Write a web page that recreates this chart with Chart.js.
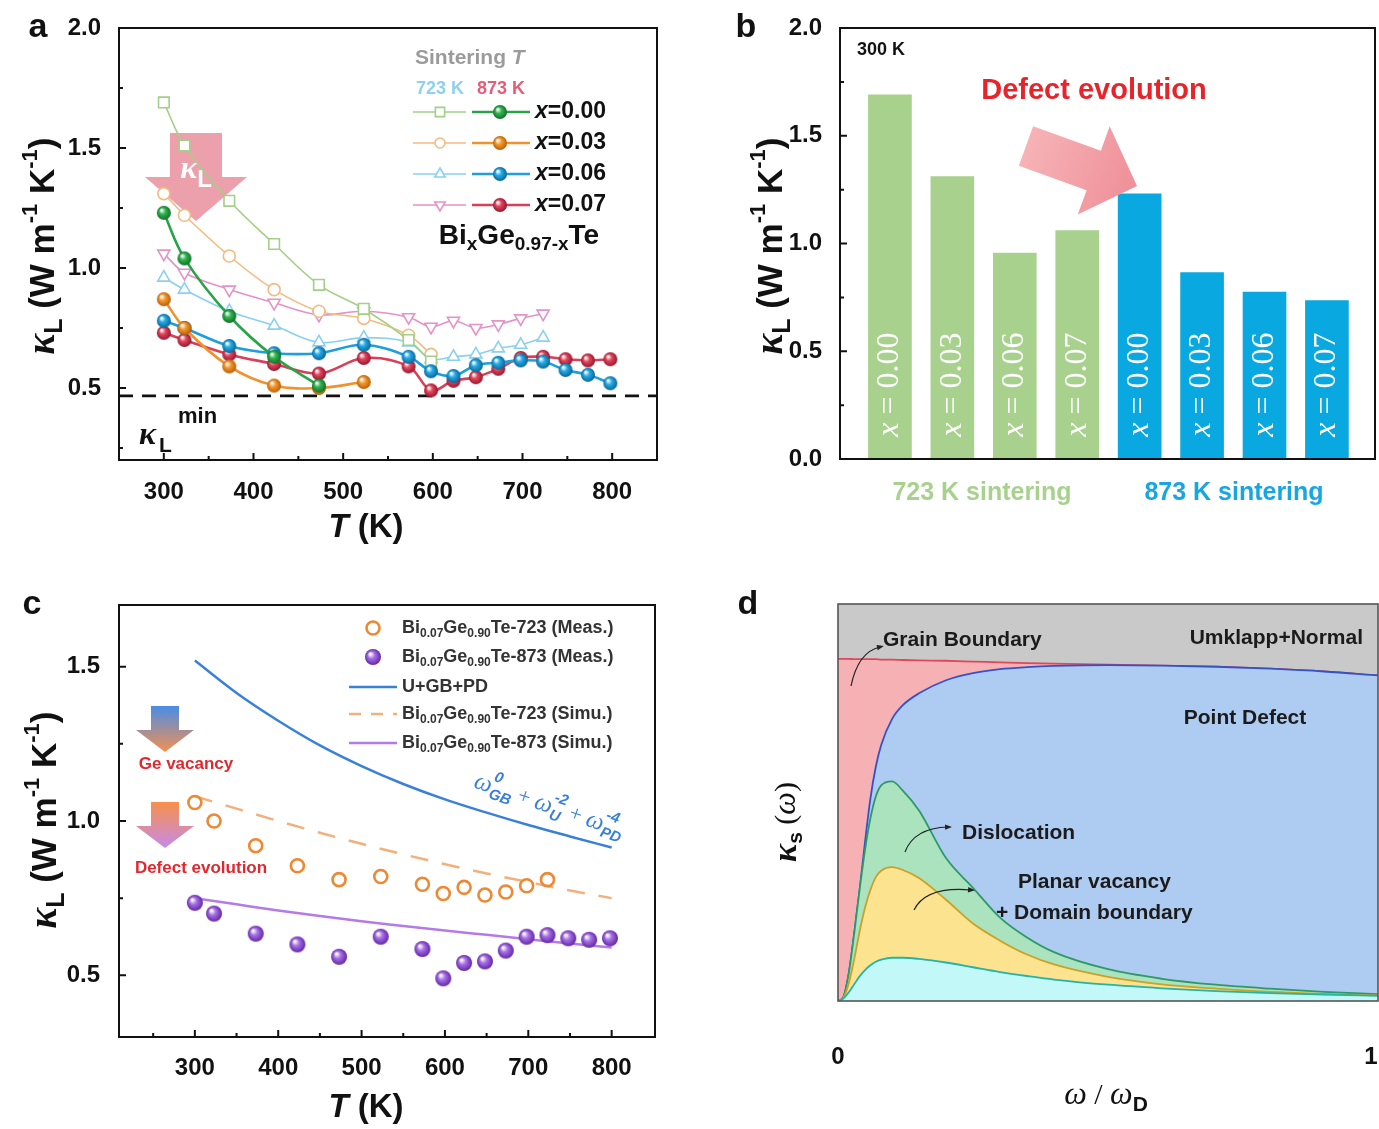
<!DOCTYPE html>
<html>
<head>
<meta charset="utf-8">
<script src="https://cdn.jsdelivr.net/npm/chart.js@4.4.1/dist/chart.umd.min.js"></script>
<style>
html, body { margin: 0; padding: 0; background: #fff; }
#wrap { position: relative; width: 1379px; height: 1129px; }
#wrap canvas { position: absolute; left: 0; top: 0; }
</style>
</head>
<body>
<div id="wrap">
  <canvas id="ca" width="1379" height="1129"></canvas>
  <canvas id="cb" width="1379" height="1129"></canvas>
  <canvas id="cc" width="1379" height="1129"></canvas>
  <canvas id="cd" width="1379" height="1129"></canvas>
</div>
<script>
// ---- panel a: kappa_L vs T, two sintering temperatures ----
const tempsA = [300, 323, 373, 423, 473, 523, 573, 598, 623, 648, 673, 698, 723, 748, 773, 798];
const k723x000 = [1.69, 1.51, 1.28, 1.10, 0.93, 0.83, 0.70, 0.61];
const k723x003 = [1.31, 1.22, 1.05, 0.91, 0.82, 0.79, 0.72, 0.64];
const k723x006 = [0.96, 0.91, 0.82, 0.76, 0.69, 0.71, 0.69, 0.62, 0.63, 0.64, 0.665, 0.68, 0.71];
const k723x007 = [1.06, 0.98, 0.91, 0.855, 0.805, 0.82, 0.795, 0.755, 0.78, 0.75, 0.765, 0.79, 0.81];
const k873x000 = [1.23, 1.04, 0.80, 0.63, 0.51];
const k873x003 = [0.87, 0.75, 0.59, 0.51, 0.50, 0.525];
const k873x006 = [0.78, 0.75, 0.675, 0.645, 0.645, 0.68, 0.63, 0.57, 0.55, 0.595, 0.605, 0.615, 0.61, 0.575, 0.555, 0.52];
const k873x007 = [0.73, 0.70, 0.64, 0.60, 0.56, 0.625, 0.59, 0.49, 0.53, 0.545, 0.58, 0.625, 0.63, 0.62, 0.615, 0.62];
const kMin = 0.467;
const xNames = ['0.00', '0.03', '0.06', '0.07'];
const ticksTA = [300, 400, 500, 600, 700, 800];
const ticksKA = [0.5, 1.0, 1.5, 2.0];

// ---- panel b: 300 K bars ----
const barNames = ['0.00', '0.03', '0.06', '0.07', '0.00', '0.03', '0.06', '0.07'];
const bars723 = [1.69, 1.31, 0.955, 1.06];
const bars873 = [1.23, 0.865, 0.775, 0.735];
const ticksKB = [0.0, 0.5, 1.0, 1.5, 2.0];

// ---- panel c: measured vs simulated ----
const tempsC = [300, 323, 373, 423, 473, 523, 573, 598, 623, 648, 673, 698, 723, 748, 773, 798];
const meas723 = [1.06, 1.00, 0.92, 0.855, 0.81, 0.82, 0.795, 0.765, 0.785, 0.76, 0.77, 0.79, 0.81];
const meas873 = [0.735, 0.70, 0.635, 0.60, 0.56, 0.625, 0.585, 0.49, 0.54, 0.545, 0.58, 0.625, 0.63, 0.62, 0.615, 0.62];
const simT = [300, 350, 400, 450, 500, 550, 600, 650, 700, 750, 800];
const simUGBPD = [1.52, 1.415, 1.325, 1.245, 1.178, 1.12, 1.07, 1.027, 0.987, 0.95, 0.914];
const sim723 = [1.08, 1.04, 1.00, 0.962, 0.926, 0.892, 0.86, 0.83, 0.802, 0.775, 0.75];
const sim873 = [0.75, 0.73, 0.71, 0.692, 0.675, 0.66, 0.645, 0.631, 0.617, 0.603, 0.59];
const ticksTC = [300, 400, 500, 600, 700, 800];
const ticksKC = [0.5, 1.0, 1.5];

// ---- panel d: spectral kappa (stacked scattering contributions) ----
const wRel = [0, 0.01, 0.02, 0.03, 0.04, 0.05, 0.06, 0.07, 0.08, 0.1, 0.12, 0.15, 0.2, 0.25, 0.3, 0.35, 0.4, 0.5, 0.6, 0.7, 0.8, 0.9, 1.0];
const kUN   = [0.862, 0.862, 0.862, 0.861, 0.861, 0.861, 0.861, 0.861, 0.860, 0.860, 0.859, 0.858, 0.857, 0.855, 0.853, 0.851, 0.85, 0.847, 0.845, 0.842, 0.837, 0.83, 0.82];
const kPD   = [0, 0.01, 0.07, 0.17, 0.28, 0.40, 0.51, 0.59, 0.645, 0.71, 0.745, 0.775, 0.808, 0.826, 0.836, 0.841, 0.844, 0.846, 0.845, 0.842, 0.837, 0.83, 0.82];
const kDis  = [0, 0.01, 0.07, 0.17, 0.28, 0.38, 0.46, 0.515, 0.543, 0.553, 0.53, 0.48, 0.36, 0.285, 0.21, 0.16, 0.123, 0.08, 0.056, 0.041, 0.031, 0.023, 0.017];
const kPlan = [0, 0.008, 0.045, 0.105, 0.175, 0.235, 0.28, 0.312, 0.328, 0.337, 0.33, 0.31, 0.255, 0.195, 0.152, 0.117, 0.092, 0.061, 0.042, 0.031, 0.023, 0.018, 0.014];
const kRest = [0, 0.006, 0.022, 0.042, 0.062, 0.078, 0.09, 0.099, 0.104, 0.109, 0.109, 0.106, 0.097, 0.085, 0.073, 0.063, 0.054, 0.041, 0.032, 0.025, 0.02, 0.016, 0.013];
const ticksWD = [0, 1];

const W = 1379, H = 1129;
const SANS = '"Liberation Sans", Arial, Helvetica, sans-serif';
const SERIF = '"Liberation Serif", "Times New Roman", serif';

const pts = (xs, ys) => ys.map((y, i) => ({ x: xs[i], y }));
const pad = (l, t, r, b, yw, xh) => ({ left: l - yw, top: t, right: W - r, bottom: H - b - xh });
const F = (size, o = {}) => `${o.it ? 'italic ' : ''}${o.normal ? '' : 'bold '}${size}px ${o.serif ? SERIF : SANS}`;

function axis(min, max, vals, fmt, padding, fit, show = true) {
  return {
    type: 'linear', min, max,
    grid: { display: false }, border: { display: false },
    afterBuildTicks: s => { s.ticks = vals.map(v => ({ value: v })); },
    afterFit: fit,
    ticks: { display: show, callback: fmt, padding, color: '#111', autoSkip: false, maxRotation: 0,
             font: { family: SANS, size: 24, weight: 'bold' } }
  };
}

function baseOpts(padding, scales) {
  return {
    responsive: false, animation: false, events: [],
    layout: { padding },
    plugins: { legend: { display: false }, tooltip: { enabled: false } },
    scales
  };
}

// shaded sphere marker
function ball(color, dark, r) {
  const c = document.createElement('canvas');
  const s = Math.ceil(r * 2 + 2);
  c.width = c.height = s;
  const g = c.getContext('2d');
  const m = s / 2;
  const gr = g.createRadialGradient(m - r * 0.35, m - r * 0.4, r * 0.08, m, m, r);
  gr.addColorStop(0, '#ffffff');
  gr.addColorStop(0.4, color);
  gr.addColorStop(1, dark);
  g.fillStyle = gr;
  g.beginPath(); g.arc(m, m, r, 0, Math.PI * 2); g.fill();
  return c;
}

// mixed-font text, parts laid out left to right
function rich(ctx, parts, x, y, align = 'left', rot = 0, color = '#111') {
  ctx.save();
  ctx.translate(x, y);
  if (rot) ctx.rotate(rot);
  ctx.textBaseline = 'middle';
  ctx.textAlign = 'left';
  let total = 0;
  parts.forEach(p => {
    ctx.font = p.f;
    p.w = p.stack ? Math.max(ctx.measureText(p.sup).width, ctx.measureText(p.sub).width)
                  : ctx.measureText(p.t).width;
    total += p.w;
  });
  let cx = align === 'center' ? -total / 2 : align === 'right' ? -total : 0;
  parts.forEach(p => {
    ctx.fillStyle = p.c || color;
    ctx.font = p.f;
    if (p.stack) {
      ctx.fillText(p.sup, cx, p.supDy);
      ctx.fillText(p.sub, cx, p.subDy);
    } else {
      ctx.fillText(p.t, cx, p.dy || 0);
    }
    cx += p.w;
  });
  ctx.restore();
}

function kTitle(S) {
  return [
    { t: 'κ', f: F(S + 4, { it: 1, serif: 1 }) },
    { t: 'L', f: F(Math.round(S * 0.7)), dy: S * 0.32 },
    { t: ' (W m', f: F(S) },
    { t: '-1', f: F(Math.round(S * 0.64)), dy: -S * 0.36 },
    { t: ' K', f: F(S) },
    { t: '-1', f: F(Math.round(S * 0.64)), dy: -S * 0.36 },
    { t: ')', f: F(S) }
  ];
}
const tTitle = [{ t: 'T', f: F(33, { it: 1 }) }, { t: ' (K)', f: F(33) }];

function frame(chart, o) {
  const { ctx, chartArea: a } = chart;
  const xs = chart.scales.x, ys = chart.scales.y;
  ctx.save();
  ctx.strokeStyle = o.color || '#111';
  ctx.lineWidth = o.lw || 2;
  ctx.strokeRect(a.left, a.top, a.right - a.left, a.bottom - a.top);
  ctx.beginPath();
  (o.xMaj || []).forEach(v => { const p = xs.getPixelForValue(v); ctx.moveTo(p, a.bottom); ctx.lineTo(p, a.bottom - 7); });
  (o.xMin || []).forEach(v => { const p = xs.getPixelForValue(v); ctx.moveTo(p, a.bottom); ctx.lineTo(p, a.bottom - 4); });
  (o.yMaj || []).forEach(v => { const p = ys.getPixelForValue(v); ctx.moveTo(a.left, p); ctx.lineTo(a.left + 7, p); });
  (o.yMin || []).forEach(v => { const p = ys.getPixelForValue(v); ctx.moveTo(a.left, p); ctx.lineTo(a.left + 4, p); });
  ctx.stroke();
  ctx.restore();
}

function arrow(ctx, x0, y0, x1, y1, bw, hw, hl, fill) {
  const ang = Math.atan2(y1 - y0, x1 - x0);
  const len = Math.hypot(x1 - x0, y1 - y0);
  ctx.save();
  ctx.translate(x0, y0);
  ctx.rotate(ang);
  ctx.beginPath();
  ctx.moveTo(0, -bw / 2);
  ctx.lineTo(len - hl, -bw / 2);
  ctx.lineTo(len - hl, -hw / 2);
  ctx.lineTo(len, 0);
  ctx.lineTo(len - hl, hw / 2);
  ctx.lineTo(len - hl, bw / 2);
  ctx.lineTo(0, bw / 2);
  ctx.closePath();
  ctx.fillStyle = typeof fill === 'function' ? fill(ctx, len) : fill;
  ctx.fill();
  ctx.restore();
}

function marker(ctx, style, x, y, r, stroke, lw, rot) {
  ctx.save();
  ctx.translate(x, y);
  if (rot) ctx.rotate(rot);
  ctx.beginPath();
  if (style === 'rect') {
    const s = r * Math.SQRT1_2;
    ctx.rect(-s, -s, 2 * s, 2 * s);
  } else if (style === 'triangle') {
    ctx.moveTo(0, -r);
    ctx.lineTo(r * 0.866, r * 0.5);
    ctx.lineTo(-r * 0.866, r * 0.5);
    ctx.closePath();
  } else {
    ctx.arc(0, 0, r, 0, Math.PI * 2);
  }
  ctx.fillStyle = '#fff';
  ctx.fill();
  ctx.strokeStyle = stroke;
  ctx.lineWidth = lw;
  ctx.stroke();
  ctx.restore();
}

function panelLabel(ctx, t, x, y) {
  ctx.save();
  ctx.font = F(34);
  ctx.fillStyle = '#111';
  ctx.textAlign = 'center';
  ctx.textBaseline = 'middle';
  ctx.fillText(t, x, y);
  ctx.restore();
}

// ================= panel a =================
const light = [
  { c: '#a3cf86', style: 'rect', r: 7.5, rot: 0 },
  { c: '#f2bb82', style: 'circle', r: 6, rot: 0 },
  { c: '#8ad0f0', style: 'triangle', r: 7, rot: 0 },
  { c: '#e492c8', style: 'triangle', r: 7, rot: 180 }
];
const dark = [
  { c: '#29a347', img: ball('#33b650', '#10702a', 7) },
  { c: '#f0922c', img: ball('#f49a30', '#b95f05', 7) },
  { c: '#1c9fdb', img: ball('#26aae5', '#0a6699', 7) },
  { c: '#d83f58', img: ball('#e2465f', '#96172c', 7) }
];
const seriesA723 = [k723x000, k723x003, k723x006, k723x007];
const seriesA873 = [k873x000, k873x003, k873x006, k873x007];

const dsA = [];
seriesA873.forEach((ys, i) => dsA.push({
  data: pts(tempsA, ys), borderColor: dark[i].c, borderWidth: 2.6, tension: 0.35,
  pointStyle: dark[i].img, pointRadius: 7
}));
seriesA723.forEach((ys, i) => dsA.push({
  data: pts(tempsA, ys), borderColor: light[i].c, borderWidth: 1.6, tension: 0.35,
  pointStyle: light[i].style, pointRotation: light[i].rot, pointRadius: light[i].r,
  pointBackgroundColor: '#fff', pointBorderColor: light[i].c, pointBorderWidth: 1.6
}));
dsA.push({
  data: [{ x: 250, y: kMin }, { x: 850, y: kMin }], borderColor: '#111', borderWidth: 2.6,
  borderDash: [14, 9], pointRadius: 0
});

new Chart(document.getElementById('ca'), {
  type: 'line',
  data: { datasets: dsA },
  options: baseOpts(pad(119, 28, 657, 460, 100, 60), {
    x: axis(250, 850, ticksTA, v => v, 10, s => { s.height = 60; }),
    y: axis(0.2, 2.0, ticksKA, v => v.toFixed(1), 10, s => { s.width = 100; })
  }),
  plugins: [{
    id: 'decoA',
    beforeDatasetsDraw(chart) {
      const ctx = chart.ctx;
      arrow(ctx, 196, 133, 196, 221, 52, 102, 44, 'rgba(229,123,138,0.72)');
      rich(ctx, [{ t: 'κ', f: F(32, { it: 1, serif: 1 }) }, { t: 'L', f: F(24), dy: 10 }], 196, 170, 'center', 0, '#fff');
    },
    afterDraw(chart) {
      const ctx = chart.ctx;
      frame(chart, { xMaj: ticksTA, xMin: [350, 450, 550, 650, 750], yMaj: ticksKA, yMin: [0.25, 0.75, 1.25, 1.75] });
      rich(ctx, kTitle(35), 44, 246, 'center', -Math.PI / 2);
      rich(ctx, tTitle, 366, 528, 'center');
      panelLabel(ctx, 'a', 38, 28);
      // kappa_min label
      rich(ctx, [{ t: 'κ', f: F(32, { it: 1, serif: 1 }) }], 139, 436);
      rich(ctx, [{ t: 'L', f: F(21) }], 159, 446);
      rich(ctx, [{ t: 'min', f: F(22) }], 178, 417);
      // legend
      rich(ctx, [{ t: 'Sintering ', f: F(21) }, { t: 'T', f: F(21, { it: 1 }) }], 415, 58, 'left', 0, '#9b9b9b');
      rich(ctx, [{ t: '723 K', f: F(18) }], 416, 89, 'left', 0, '#8ed0f0');
      rich(ctx, [{ t: '873 K', f: F(18) }], 477, 89, 'left', 0, '#e35d79');
      const rowsY = [112, 143, 174, 205];
      xNames.forEach((nm, i) => {
        const y = rowsY[i];
        ctx.save();
        ctx.lineWidth = 1.6; ctx.strokeStyle = light[i].c;
        ctx.beginPath(); ctx.moveTo(413, y); ctx.lineTo(466, y); ctx.stroke();
        ctx.lineWidth = 2.6; ctx.strokeStyle = dark[i].c;
        ctx.beginPath(); ctx.moveTo(472, y); ctx.lineTo(530, y); ctx.stroke();
        ctx.restore();
        marker(ctx, light[i].style, 440, y, light[i].r - 1, light[i].c, 1.6, light[i].rot * Math.PI / 180);
        const im = dark[i].img;
        ctx.drawImage(im, 500 - im.width / 2, y - im.height / 2);
        rich(ctx, [{ t: 'x', f: F(23, { it: 1 }) }, { t: '=' + nm, f: F(23) }], 535, y);
      });
      rich(ctx, [
        { t: 'Bi', f: F(28) }, { t: 'x', f: F(19), dy: 9 },
        { t: 'Ge', f: F(28) }, { t: '0.97-x', f: F(19), dy: 9 },
        { t: 'Te', f: F(28) }
      ], 519, 236, 'center');
    }
  }]
});

// ================= panel b =================
const barVals = bars723.concat(bars873);
const barColors = barVals.map((v, i) => i < bars723.length ? '#a9d18e' : '#0aa8e0');

new Chart(document.getElementById('cb'), {
  type: 'bar',
  data: {
    datasets: [{
      data: barVals.map((v, i) => ({ x: i, y: v })),
      backgroundColor: barColors, barThickness: 43, borderWidth: 0
    }]
  },
  options: baseOpts(pad(840, 28, 1375, 459, 100, 60), {
    x: axis(-0.8, 7.77, [], v => '', 10, s => { s.height = 60; }, false),
    y: axis(0, 2.0, ticksKB, v => v.toFixed(1), 10, s => { s.width = 100; })
  }),
  plugins: [{
    id: 'decoB',
    afterDatasetsDraw(chart) {
      const ctx = chart.ctx;
      const yMid = chart.scales.y.getPixelForValue(0.345);
      chart.getDatasetMeta(0).data.forEach((el, i) => {
        rich(ctx, [
          { t: 'x', f: F(32, { it: 1, serif: 1, normal: 1 }) },
          { t: ' = ' + barNames[i], f: F(32, { serif: 1, normal: 1 }) }
        ], el.x, yMid, 'center', -Math.PI / 2, '#fff');
      });
    },
    afterDraw(chart) {
      const ctx = chart.ctx;
      frame(chart, { yMaj: ticksKB, yMin: [0.25, 0.75, 1.25, 1.75] });
      rich(ctx, kTitle(35), 772, 246, 'center', -Math.PI / 2);
      panelLabel(ctx, 'b', 746, 28);
      rich(ctx, [{ t: '300 K', f: F(18) }], 857, 50);
      rich(ctx, [{ t: 'Defect evolution', f: F(29) }], 1094, 91, 'center', 0, '#e8242b');
      arrow(ctx, 1026, 146, 1137, 186, 42, 94, 46, (c, len) => {
        const g = c.createLinearGradient(0, 0, len, 0);
        g.addColorStop(0, '#f6b3b6');
        g.addColorStop(1, '#ef8f98');
        return g;
      });
      rich(ctx, [{ t: '723 K sintering', f: F(25) }], 982, 493, 'center', 0, '#a9d18e');
      rich(ctx, [{ t: '873 K sintering', f: F(25) }], 1234, 493, 'center', 0, '#17a6e3');
    }
  }]
});

// ================= panel c =================
const purpleBall = ball('#a770e4', '#6326a8', 8);

new Chart(document.getElementById('cc'), {
  type: 'line',
  data: {
    datasets: [
      { data: pts(tempsC, meas723), showLine: false, pointStyle: 'circle', pointRadius: 6.5,
        pointBackgroundColor: 'rgba(255,255,255,0)', pointBorderColor: '#ec8934', pointBorderWidth: 2.6 },
      { data: pts(tempsC, meas873), showLine: false, pointStyle: purpleBall, pointRadius: 8 },
      { data: pts(simT, simUGBPD), borderColor: '#3a80d8', borderWidth: 2.5, pointRadius: 0, cubicInterpolationMode: 'monotone' },
      { data: pts(simT, sim723), borderColor: '#f2b07c', borderWidth: 2.5, borderDash: [18, 14], pointRadius: 0, cubicInterpolationMode: 'monotone' },
      { data: pts(simT, sim873), borderColor: '#b67ae8', borderWidth: 2.5, pointRadius: 0, cubicInterpolationMode: 'monotone' }
    ]
  },
  options: baseOpts(pad(119, 605, 655, 1037, 100, 60), {
    x: axis(209, 852, ticksTC, v => v, 9, s => { s.height = 60; }),
    y: axis(0.3, 1.7, ticksKC, v => v.toFixed(1), 11, s => { s.width = 100; })
  }),
  plugins: [{
    id: 'decoC',
    afterDraw(chart) {
      const ctx = chart.ctx;
      frame(chart, { xMaj: ticksTC, xMin: [250, 350, 450, 550, 650, 750], yMaj: ticksKC, yMin: [0.75, 1.25] });
      rich(ctx, kTitle(35), 46, 820, 'center', -Math.PI / 2);
      rich(ctx, tTitle, 366, 1108, 'center');
      panelLabel(ctx, 'c', 32, 605);
      // legend
      const ly = [628, 657, 687, 714, 743];
      marker(ctx, 'circle', 373, ly[0], 6.5, '#ec8934', 2.6);
      ctx.drawImage(purpleBall, 373 - purpleBall.width / 2, ly[1] - purpleBall.height / 2);
      ctx.save();
      ctx.lineWidth = 2.5;
      ctx.strokeStyle = '#3a80d8';
      ctx.beginPath(); ctx.moveTo(349, ly[2]); ctx.lineTo(397, ly[2]); ctx.stroke();
      ctx.strokeStyle = '#f2b07c'; ctx.setLineDash([12, 10]);
      ctx.beginPath(); ctx.moveTo(349, ly[3]); ctx.lineTo(397, ly[3]); ctx.stroke();
      ctx.setLineDash([]);
      ctx.strokeStyle = '#b67ae8';
      ctx.beginPath(); ctx.moveTo(349, ly[4]); ctx.lineTo(397, ly[4]); ctx.stroke();
      ctx.restore();
      const bi = tail => [
        { t: 'Bi', f: F(18) }, { t: '0.07', f: F(12), dy: 6 },
        { t: 'Ge', f: F(18) }, { t: '0.90', f: F(12), dy: 6 },
        { t: 'Te-' + tail, f: F(18) }
      ];
      rich(ctx, bi('723 (Meas.)'), 402, ly[0], 'left', 0, '#333');
      rich(ctx, bi('873 (Meas.)'), 402, ly[1], 'left', 0, '#333');
      rich(ctx, [{ t: 'U+GB+PD', f: F(18) }], 402, ly[2], 'left', 0, '#333');
      rich(ctx, bi('723 (Simu.)'), 402, ly[3], 'left', 0, '#333');
      rich(ctx, bi('873 (Simu.)'), 402, ly[4], 'left', 0, '#333');
      // gradient arrows
      arrow(ctx, 165, 706, 165, 752, 28, 58, 22, (c, len) => {
        const g = c.createLinearGradient(0, 0, len, 0);
        g.addColorStop(0, '#4a8de6'); g.addColorStop(1, '#f39052');
        return g;
      });
      rich(ctx, [{ t: 'Ge vacancy', f: F(17) }], 186, 764, 'center', 0, '#e0282e');
      arrow(ctx, 165, 802, 165, 848, 28, 58, 22, (c, len) => {
        const g = c.createLinearGradient(0, 0, len, 0);
        g.addColorStop(0, '#f7904c'); g.addColorStop(1, '#c58ae8');
        return g;
      });
      rich(ctx, [{ t: 'Defect evolution', f: F(17) }], 201, 868, 'center', 0, '#e0282e');
      // rotated formula along the U+GB+PD curve
      const om = F(25, { it: 1, serif: 1, normal: 1 });
      const sm = F(15, { it: 1 });
      rich(ctx, [
        { t: 'ω', f: om }, { stack: 1, sup: '0', sub: 'GB', f: sm, supDy: -10, subDy: 8 },
        { t: ' + ', f: F(22, { serif: 1, normal: 1 }) },
        { t: 'ω', f: om }, { stack: 1, sup: '-2', sub: 'U', f: sm, supDy: -10, subDy: 8 },
        { t: ' + ', f: F(22, { serif: 1, normal: 1 }) },
        { t: 'ω', f: om }, { stack: 1, sup: '-4', sub: 'PD', f: sm, supDy: -10, subDy: 8 }
      ], 549, 806, 'center', 0.33, '#3a80d8');
    }
  }]
});

// ================= panel d =================
const areaD = (ys, line, fillC) => ({
  data: pts(wRel, ys), borderColor: line, borderWidth: 1.8, backgroundColor: fillC,
  fill: 'origin', pointRadius: 0, cubicInterpolationMode: 'monotone'
});

new Chart(document.getElementById('cd'), {
  type: 'line',
  data: {
    datasets: [
      areaD(kRest, '#25b3a6', '#c2f8f8'),
      areaD(kPlan, '#c9a227', '#fbe38f'),
      areaD(kDis, '#2c9a66', '#abe3bf'),
      areaD(kPD, '#3552c4', '#aecbf2'),
      areaD(kUN, '#e0475a', '#f6b1b5')
    ]
  },
  options: baseOpts(pad(838, 604, 1378, 1001, 100, 60), {
    x: axis(0, 1, ticksWD, v => v, 0, s => { s.height = 60; }, false),
    y: axis(0, 1, [], v => '', 0, s => { s.width = 100; }, false)
  }),
  plugins: [{
    id: 'decoD',
    beforeDatasetsDraw(chart) {
      const { ctx, chartArea: a } = chart;
      ctx.save();
      ctx.fillStyle = '#c9c9c9';
      ctx.fillRect(a.left, a.top, a.right - a.left, a.bottom - a.top);
      ctx.restore();
    },
    afterDraw(chart) {
      const ctx = chart.ctx;
      frame(chart, { color: '#555', lw: 1.6 });
      // tick labels 0 and 1 sit well below the frame; keep the last one inside the page
      ticksWD.forEach(v => {
        const px = Math.min(chart.scales.x.getPixelForValue(v), W - 8);
        rich(ctx, [{ t: String(v), f: F(24) }], px, 1057, 'center');
      });
      panelLabel(ctx, 'd', 748, 605);
      rich(ctx, [
        { t: 'κ', f: F(34, { it: 1, serif: 1 }) }, { t: 's', f: F(21), dy: 9 },
        { t: ' (', f: F(30, { serif: 1, normal: 1 }) }, { t: 'ω', f: F(32, { it: 1, serif: 1, normal: 1 }) },
        { t: ')', f: F(30, { serif: 1, normal: 1 }) }
      ], 787, 822, 'center', -Math.PI / 2);
      rich(ctx, [
        { t: 'ω', f: F(32, { it: 1, serif: 1, normal: 1 }) }, { t: ' / ', f: F(30, { serif: 1, normal: 1 }) },
        { t: 'ω', f: F(32, { it: 1, serif: 1, normal: 1 }) }, { t: 'D', f: F(21), dy: 9 }
      ], 1106, 1096, 'center');
      const lab = (t, x, y, al) => rich(ctx, [{ t, f: F(21) }], x, y, al || 'left', 0, '#1b1b1b');
      lab('Grain Boundary', 883, 640);
      lab('Umklapp+Normal', 1363, 638, 'right');
      lab('Point Defect', 1245, 718, 'center');
      lab('Dislocation', 962, 833);
      lab('Planar vacancy', 1018, 882);
      lab('+ Domain boundary', 996, 913);
      // little pointer curves
      ctx.save();
      ctx.strokeStyle = '#222'; ctx.fillStyle = '#222'; ctx.lineWidth = 1.2;
      const curve = (x0, y0, cx, cy, x1, y1) => {
        ctx.beginPath(); ctx.moveTo(x0, y0); ctx.quadraticCurveTo(cx, cy, x1, y1); ctx.stroke();
        const an = Math.atan2(y1 - cy, x1 - cx);
        ctx.beginPath();
        ctx.moveTo(x1 + 4 * Math.cos(an), y1 + 4 * Math.sin(an));
        ctx.lineTo(x1 + 4 * Math.cos(an + 2.4), y1 + 4 * Math.sin(an + 2.4));
        ctx.lineTo(x1 + 4 * Math.cos(an - 2.4), y1 + 4 * Math.sin(an - 2.4));
        ctx.fill();
      };
      curve(851, 686, 858, 652, 880, 647);
      curve(905, 852, 914, 828, 948, 827);
      curve(914, 910, 926, 886, 971, 890);
      ctx.restore();
    }
  }]
});
</script>
</body>
</html>
